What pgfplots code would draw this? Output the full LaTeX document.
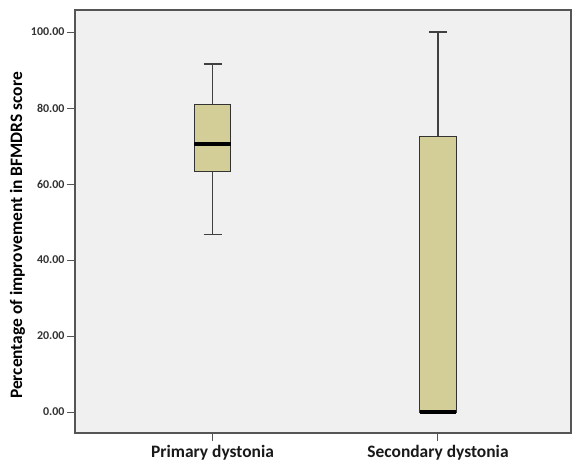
\documentclass[border=0pt]{standalone}
\usepackage{fontspec}
\setmainfont{Carlito}
\usepackage{pgfplots}
\pgfplotsset{compat=1.18}
\definecolor{bgcol}{RGB}{240,240,240}
\definecolor{boxcol}{RGB}{211,206,152}
\definecolor{linecol}{RGB}{85,85,85}
\begin{document}
\begin{tikzpicture}
\useasboundingbox[fill=white] (0,0) rectangle (572bp,467bp);
\begin{axis}[
  at={(75bp,34bp)}, anchor=south west,
  scale only axis, width=496bp, height=423bp,
  xmin=-0.61, xmax=1.59,
  ymin=-5.5, ymax=105.8,
  axis background/.style={fill=bgcol},
  axis line style={draw=linecol, line width=1.2pt},
  tick style={draw=linecol, line width=1pt},
  tick align=outside, tick pos=left,
  major tick length=8bp,
  xtick={0,1}, xticklabels={Primary dystonia, Secondary dystonia},
  ytick={0,20,40,60,80,100},
  yticklabel={\pgfmathprintnumber[fixed, fixed zerofill, precision=2, assume math mode=true]{\tick}},
  y tick label style={font=\bfseries\fontsize{12}{13}\selectfont, color=black!80, xshift=1bp},
  x tick label style={font=\bfseries\fontsize{17.5}{19}\selectfont, color=black!90, yshift=-1bp},
  ylabel={Percentage of improvement in BFMDRS score},
  ylabel style={font=\bfseries\fontsize{17.5}{19}\selectfont, yshift=-1bp, xshift=-14bp},
  whisk/.style={draw=black!75, line width=1.3pt},
  boxs/.style={draw=black!80, fill=boxcol, line width=1pt},
  med/.style={draw=black, line width=3.5pt},
]
% Primary dystonia: lower whisker 46.8, Q1 63.4, median 70.5, Q3 81.0, upper whisker 91.6
\addplot[whisk] coordinates {(0,46.8) (0,91.6)};
\addplot[whisk] coordinates {(-0.04,46.8) (0.04,46.8)};
\addplot[whisk] coordinates {(-0.04,91.6) (0.04,91.6)};
\addplot[boxs] coordinates {(-0.08,63.4) (0.08,63.4) (0.08,81.0) (-0.08,81.0)} -- cycle;
\addplot[med] coordinates {(-0.08,70.5) (0.08,70.5)};
% Secondary dystonia: lower whisker 0, Q1 0, median 0, Q3 72.4, upper whisker 100
\addplot[whisk] coordinates {(1,72.4) (1,100)};
\addplot[whisk] coordinates {(0.96,100) (1.04,100)};
\addplot[boxs] coordinates {(0.92,0) (1.08,0) (1.08,72.4) (0.92,72.4)} -- cycle;
\addplot[med] coordinates {(0.92,0) (1.08,0)};
\end{axis}
\end{tikzpicture}
\end{document}
